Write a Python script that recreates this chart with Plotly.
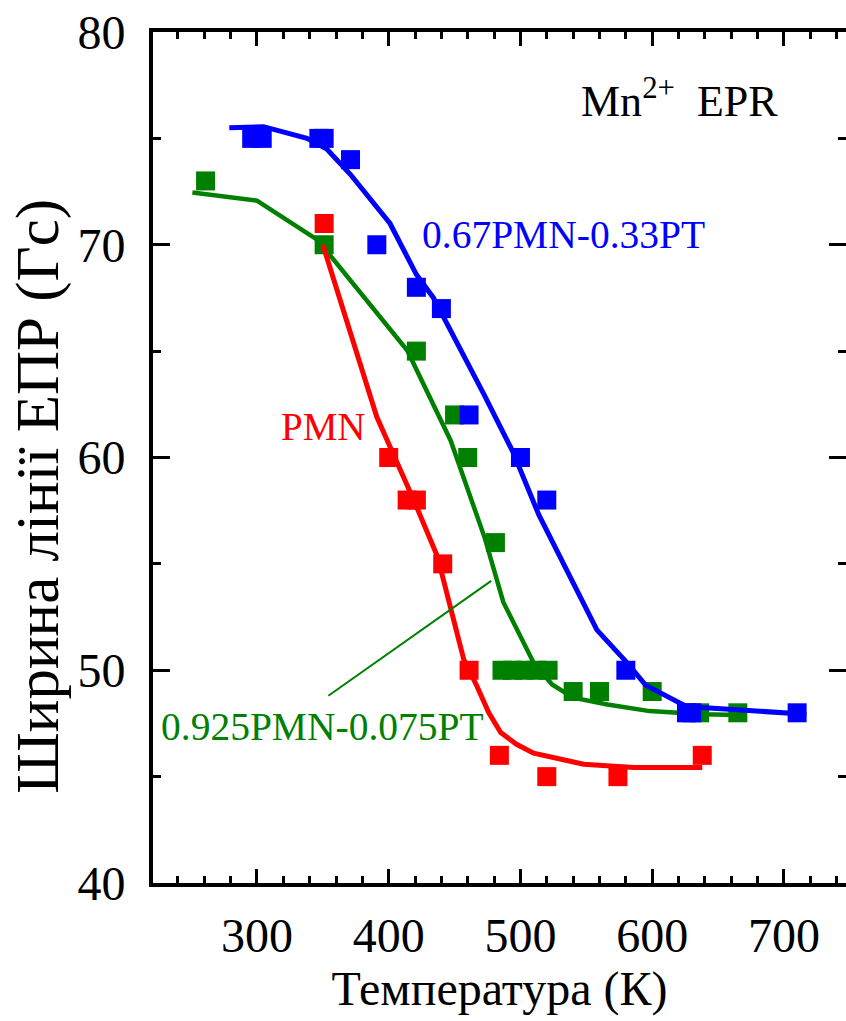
import plotly.graph_objects as go

# ---- data ----
blue_T = [296, 304, 347, 351, 371, 391, 421, 440, 461, 500, 520, 580, 626, 630, 710]
blue_W = [75, 75, 75, 75, 74, 70, 68, 67, 62, 60, 58, 50, 48, 48, 48]

green_T = [261, 351, 421, 450, 460, 481, 486, 494, 503, 512, 521, 540, 560, 600, 636, 665]
green_W = [73, 70, 65, 62, 60, 56, 50, 50, 50, 50, 50, 49, 49, 49, 48, 48]

red_T = [351, 400, 414, 421, 441, 461, 484, 520, 574, 638]
red_W = [71, 60, 58, 58, 55, 50, 46, 45, 45, 46]

blue_fit_T = [279, 305, 338, 353, 371, 401, 421, 434, 472, 494, 514, 558, 581, 595, 626, 717]
blue_fit_W = [75.5, 75.55, 75.0, 74.5, 73.3, 71.0, 68.6, 67.5, 63.0, 60.3, 57.3, 51.9, 50.35, 49.3, 48.3, 47.93]

green_fit_T = [251, 300, 346, 414, 447, 473, 487, 502, 510, 524, 540, 566, 598, 638, 666]
green_fit_W = [72.46, 72.07, 70.23, 65.04, 60.8, 56.2, 53.2, 51.3, 50.35, 49.33, 48.71, 48.39, 48.08, 47.93, 47.9]

red_fit_T = [350, 391, 401, 419, 437, 457, 467, 476, 485, 497, 510, 548, 586, 638]
red_fit_W = [70.0, 61.9, 60.5, 58.0, 55.35, 50.5, 49.25, 48.0, 47.07, 46.52, 46.1, 45.58, 45.43, 45.43]

x_title = "Температура (К)"
y_title = "Ширина лінії ЕПР (Гс)"

BLUE = "#0000FF"
GREEN = "#008000"
RED = "#FF0000"
FONT = "Liberation Serif"
MSIZE = 19

fig = go.Figure()

def add_series(T, W, fT, fW, color, lw):
    fig.add_trace(go.Scatter(x=T, y=W, mode="markers",
                             marker=dict(symbol="square", size=MSIZE, color=color,
                                         line=dict(width=0)),
                             cliponaxis=False, showlegend=False))
    fig.add_trace(go.Scatter(x=fT, y=fW, mode="lines",
                             line=dict(color=color, width=lw),
                             showlegend=False))

add_series(green_T, green_W, green_fit_T, green_fit_W, GREEN, 4.5)
add_series(red_T, red_W, red_fit_T, red_fit_W, RED, 5)
add_series(blue_T, blue_W, blue_fit_T, blue_fit_W, BLUE, 5)

# leader line for the green label
fig.add_shape(type="line", xref="x", yref="y", x0=477.8, y0=54.2, x1=354.2, y1=48.8,
              line=dict(color=GREEN, width=2))

fig.add_annotation(x=620.4, y=76.86, xref="x", yref="y", text="Mn<sup>2+</sup>  EPR",
                   showarrow=False, font=dict(family=FONT, size=44, color="black"))
fig.add_annotation(x=532.8, y=70.48, xref="x", yref="y", text="0.67PMN-0.33PT",
                   showarrow=False, font=dict(family=FONT, size=39.5, color=BLUE))
fig.add_annotation(x=350.6, y=61.44, xref="x", yref="y", text="PMN",
                   showarrow=False, font=dict(family=FONT, size=39, color=RED))
fig.add_annotation(x=350.0, y=47.34, xref="x", yref="y", text="0.925PMN-0.075PT",
                   showarrow=False, font=dict(family=FONT, size=39.5, color=GREEN))

# y-axis title (placed as in the reference, slightly below the axis centre)
fig.add_annotation(x=-0.166, y=0.455, xref="paper", yref="paper", text=y_title,
                   xanchor="center", yanchor="middle",
                   textangle=-90, showarrow=False,
                   font=dict(family=FONT, size=61, color="black"))

axis_common = dict(
    showline=True, linewidth=4, linecolor="black", mirror="ticks",
    ticks="inside", tickwidth=3, tickcolor="black",
    showgrid=False, zeroline=False, automargin=False,
    tickfont=dict(family=FONT, size=48, color="black"),
)

fig.update_layout(
    width=846, height=1021,
    margin=dict(l=153, r=0, t=32, b=138, pad=0),
    plot_bgcolor="white", paper_bgcolor="white",
    showlegend=False,
    xaxis=dict(range=[221.1, 747.1], tickmode="linear", tick0=300, dtick=100,
               ticklen=14, ticklabelstandoff=7,
               minor=dict(dtick=20, tick0=0, ticks="inside", ticklen=7, tickwidth=3,
                          tickcolor="black", showgrid=False),
               title=dict(text=x_title, font=dict(family=FONT, size=48, color="black"),
                          standoff=8),
               **axis_common),
    yaxis=dict(range=[40, 80], tickmode="linear", tick0=40, dtick=10,
               ticklen=17, ticklabelstandoff=14,
               minor=dict(dtick=5, tick0=0, ticks="inside", ticklen=8, tickwidth=3,
                          tickcolor="black", showgrid=False),
               **axis_common),
)

fig.write_html("out.html", config={"displayModeBar": False},
               post_script="document.body.style.margin='0';document.body.style.overflow='hidden';")
